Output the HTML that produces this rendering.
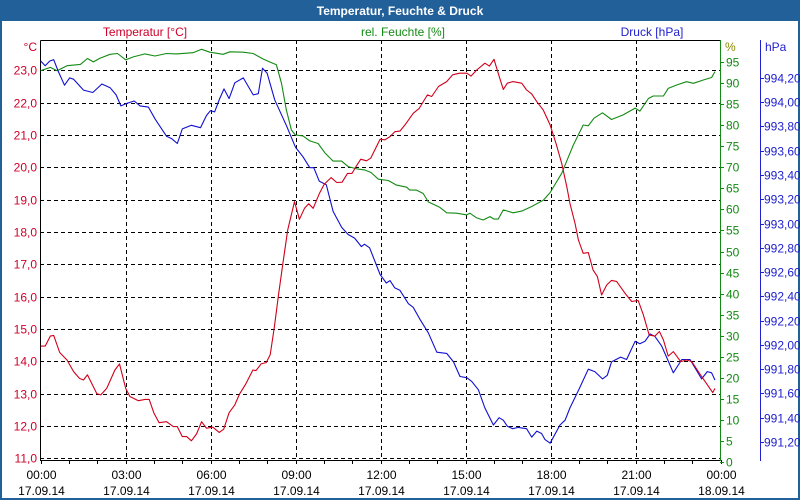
<!DOCTYPE html>
<html><head><meta charset="utf-8">
<style>
html,body{margin:0;padding:0;background:#fff}
svg{display:block}
text{font-family:"Liberation Sans",sans-serif;font-size:12px}
</style></head>
<body>
<svg id="chart" width="800" height="500" viewBox="0 0 800 500" xmlns="http://www.w3.org/2000/svg">
<rect x="0" y="0" width="800" height="500" fill="#22609a"/>
<rect x="2" y="21" width="796" height="477" fill="#fff"/>
<text x="400" y="15" text-anchor="middle" fill="#fff" font-weight="bold">Temperatur, Feuchte &amp; Druck</text>
<text x="145" y="36" text-anchor="middle" fill="#d0002a">Temperatur [°C]</text>
<text x="403" y="36" text-anchor="middle" fill="#138a13">rel. Feuchte [%]</text>
<text x="652" y="36" text-anchor="middle" fill="#2020d0">Druck [hPa]</text>
<text x="37" y="51" text-anchor="end" fill="#d0002a">°C</text>
<text x="725" y="51" fill="#8a8a00">%</text>
<text x="765" y="51" fill="#2020d0">hPa</text>
<g id="grid"></g>
<g id="axes"></g>
<g id="series"></g>
</svg>
<script>
const NS="http://www.w3.org/2000/svg";
// ---- data ----
const tempHours=[0,0.16,0.34,0.46,0.67,0.93,1.16,1.37,1.51,1.65,1.98,2.12,2.33,2.62,2.78,3.0,3.15,3.45,3.68,3.83,4.0,4.18,4.44,4.68,4.82,5.0,5.15,5.32,5.5,5.68,5.85,6.08,6.3,6.46,6.65,6.85,7.02,7.24,7.49,7.6,7.78,7.96,8.1,8.25,8.4,8.55,8.72,8.96,9.13,9.31,9.46,9.62,9.84,10.01,10.25,10.45,10.64,10.83,10.99,11.13,11.3,11.5,11.65,11.98,12.15,12.33,12.5,12.68,12.86,13.15,13.36,13.65,13.8,14.04,14.33,14.54,14.78,15.04,15.19,15.39,15.68,15.84,16.0,16.15,16.33,16.47,16.66,16.98,17.15,17.33,17.51,17.74,17.98,18.19,18.39,18.57,18.68,18.86,18.98,19.15,19.33,19.5,19.65,19.8,19.98,20.15,20.33,20.62,20.86,21.09,21.27,21.48,21.68,21.84,21.98,22.15,22.33,22.59,22.8,22.98,23.33,23.72,23.8];
const tempValues=[14.47,14.47,14.78,14.8,14.27,14.04,13.68,13.47,13.42,13.58,13.0,12.96,13.16,13.73,13.92,13.16,12.91,12.78,12.82,12.82,12.39,12.1,12.13,11.98,11.98,11.67,11.67,11.54,11.75,12.13,11.93,11.96,11.8,11.9,12.41,12.65,12.99,13.3,13.73,13.71,13.92,13.96,14.2,15.07,16.1,17.03,18.06,18.94,18.39,18.73,18.87,18.73,19.2,19.48,19.68,19.53,19.54,19.81,19.81,20.02,20.25,20.2,20.28,20.87,20.85,20.95,21.1,21.12,21.31,21.67,21.82,22.24,22.19,22.5,22.65,22.86,22.91,22.91,22.82,23.01,23.22,23.13,23.34,22.91,22.41,22.6,22.65,22.6,22.39,22.27,22.03,21.77,21.31,20.74,20.12,19.4,18.89,18.27,17.75,17.34,17.36,16.82,16.62,16.05,16.36,16.5,16.47,16.11,15.85,15.88,15.44,14.81,14.78,14.92,14.66,14.16,14.3,13.99,14.04,13.99,13.53,13.03,13.16];
const humHours=[0,0.34,0.58,0.93,1.4,1.65,1.86,2.1,2.45,2.71,3.0,3.27,3.68,4.03,4.44,4.79,5.38,5.68,5.97,6.44,6.68,7.15,7.5,7.85,8.08,8.32,8.5,8.67,8.85,8.99,9.26,9.5,9.79,10.03,10.32,10.62,10.85,11.2,11.43,11.66,11.92,12.27,12.56,12.92,13.03,13.27,13.5,13.68,14.09,14.33,14.68,15.04,15.15,15.39,15.62,15.86,16.0,16.15,16.33,16.68,16.98,17.33,17.74,17.98,18.39,18.8,19.15,19.33,19.53,19.83,20.15,20.56,20.98,21.15,21.45,21.62,21.98,22.15,22.45,22.8,23.04,23.39,23.68,23.8];
const humValues=[93.0,93.8,93.0,94.2,94.5,95.9,95.1,96.0,96.9,97.1,95.6,96.3,97.0,96.5,97.1,97.0,97.3,98.1,97.4,96.9,97.5,97.4,97.1,95.8,95.1,94.4,90.0,83.7,78.9,77.7,77.5,76.3,75.7,73.5,71.5,71.5,70.2,69.6,69.4,68.8,67.2,66.9,65.8,65.3,64.6,64.6,63.8,61.8,60.5,59.2,59.1,58.7,59.1,58.0,57.5,58.3,57.7,57.7,59.9,59.2,59.6,60.7,62.2,64.0,68.6,75.3,80.1,79.9,81.7,83.0,81.4,82.5,84.1,83.4,86.4,87.0,87.0,88.8,89.6,90.4,90.0,90.8,91.4,92.8];
const presHours=[0,0.16,0.32,0.46,0.63,0.84,1.02,1.16,1.51,1.84,2.16,2.45,2.66,2.83,3.04,3.3,3.51,3.8,4.04,4.44,4.62,4.82,5.0,5.32,5.64,5.85,5.99,6.14,6.32,6.47,6.65,6.85,7.15,7.5,7.68,7.83,7.99,8.26,8.67,8.99,9.26,9.5,9.64,9.83,10.08,10.32,10.62,10.85,11.08,11.32,11.43,11.61,11.98,12.2,12.33,12.5,12.68,12.98,13.15,13.39,13.68,13.98,14.33,14.57,14.8,15.04,15.21,15.45,15.68,15.98,16.18,16.33,16.47,16.66,16.86,17.15,17.33,17.51,17.68,17.8,17.98,18.33,18.51,18.68,19.01,19.33,19.56,19.83,20.0,20.15,20.47,20.68,20.98,21.15,21.33,21.51,21.68,21.92,22.13,22.33,22.63,22.92,23.33,23.53,23.68,23.8];
const presValues=[994.34,994.30,994.34,994.35,994.25,994.14,994.20,994.19,994.10,994.08,994.15,994.12,994.06,993.97,993.99,994.01,993.97,993.96,993.86,993.72,993.70,993.66,993.78,993.81,993.79,993.89,993.93,993.92,994.03,994.11,994.03,994.16,994.20,994.06,994.07,994.28,994.24,994.02,993.81,993.63,993.55,993.46,993.46,993.35,993.32,993.10,992.97,992.91,992.88,992.81,992.83,992.80,992.58,992.51,992.53,992.47,992.45,992.34,992.31,992.21,992.10,991.94,991.93,991.86,991.74,991.73,991.70,991.63,991.48,991.34,991.40,991.38,991.33,991.31,991.32,991.31,991.24,991.29,991.27,991.22,991.19,991.34,991.38,991.48,991.64,991.80,991.78,991.72,991.75,991.86,991.90,991.88,992.03,992.01,992.03,992.09,992.07,991.99,991.88,991.77,991.88,991.88,991.72,991.78,991.77,991.71];
const tempTicks=["11,0","12,0","13,0","14,0","15,0","16,0","17,0","18,0","19,0","20,0","21,0","22,0","23,0"];
const humTicks=[0,5,10,15,20,25,30,35,40,45,50,55,60,65,70,75,80,85,90,95];
const presTicks=["991,20","991,40","991,60","991,80","992,00","992,20","992,40","992,60","992,80","993,00","993,20","993,40","993,60","993,80","994,00","994,20"];
const timeTicks=["00:00","03:00","06:00","09:00","12:00","15:00","18:00","21:00","00:00"];
const dateTicks=["17.09.14","17.09.14","17.09.14","17.09.14","17.09.14","17.09.14","17.09.14","17.09.14","18.09.14"];
// ---- scales ----
const X=h=>40.7+h*28.33;
const YT=t=>70.3+(23-t)*32.33;
const YH=v=>461.7-v*4.204;
const YP=p=>442-(p-991.2)/0.2*24.27;
function mk(tag,attrs,parent){const e=document.createElementNS(NS,tag);for(const k in attrs)e.setAttribute(k,attrs[k]);parent.appendChild(e);return e;}
const grid=document.getElementById('grid'),axes=document.getElementById('axes'),series=document.getElementById('series');
// horizontal grid + temp labels
tempTicks.forEach((lab,i)=>{const y=Math.round(YT(11+i))+0.5;
 const l=mk('line',{x1:40,x2:720,y1:y,y2:y,stroke:'#000','stroke-dasharray':'4,3'},grid);
 
 
 const t=mk('text',{x:37,y:y+4,'text-anchor':'end',fill:'#d0002a'},axes);t.textContent=lab;
 
 
});
// vertical grid + time labels
timeTicks.forEach((lab,i)=>{const x=Math.round(X(i*3))+0.5;
 if(i>0&&i<8){const l=mk('line',{x1:x,x2:x,y1:40,y2:460,stroke:'#000','stroke-dasharray':'4,3'},grid);
 
 }
 const t=mk('text',{x:x,y:479,'text-anchor':'middle',fill:'#000'},axes);t.textContent=lab;
 
 
 const d=mk('text',{x:x,y:495,'text-anchor':'middle',fill:'#000'},axes);d.textContent=dateTicks[i];
 
 
});
for(let h=0;h<=24;h++){const x=Math.round(X(h))+0.5;const l=mk('line',{x1:x,x2:x,y1:460,y2:464,stroke:'#000'},axes);
 
 }
// plot frame
const fr=mk('path',{d:'M40.5,40.5H720.5M40.5,40.5V460.5H720.5',stroke:'#000',fill:'none'},axes);


const ha=mk('line',{x1:720.5,x2:720.5,y1:40,y2:461,stroke:'#138a13'},axes);


const pa=mk('line',{x1:760.5,x2:760.5,y1:40,y2:461,stroke:'#2020d0'},axes);


humTicks.forEach(v=>{const y=Math.round(YH(v))+0.5;
 const k=mk('line',{x1:720,x2:724,y1:y,y2:y,stroke:'#138a13'},axes);
 
 
 const t=mk('text',{x:726,y:y+4,fill:'#138a13'},axes);t.textContent=v;
 
 
});
presTicks.forEach((lab,i)=>{const y=Math.round(YP(991.2+i*0.2))+0.5;
 const k=mk('line',{x1:760,x2:764,y1:y,y2:y,stroke:'#2020d0'},axes);
 
 
 const t=mk('text',{x:764,y:y+4,fill:'#2020d0'},axes);t.textContent=lab;
 
 
});
function line(hs,vs,yf,color,name){const d=hs.map((h,i)=>(i?'L':'M')+X(h).toFixed(1)+','+yf(vs[i]).toFixed(1)).join('');
 const p=mk('path',{d:d,stroke:color,fill:'none','stroke-width':1.1,'stroke-linejoin':'round'},series);
 
 }
line(humHours,humValues,YH,'#138a13','humidity-line');
line(presHours,presValues,YP,'#1010d0','pressure-line');
line(tempHours,tempValues,YT,'#d0001a','temperature-line');
</script>
</body></html>
